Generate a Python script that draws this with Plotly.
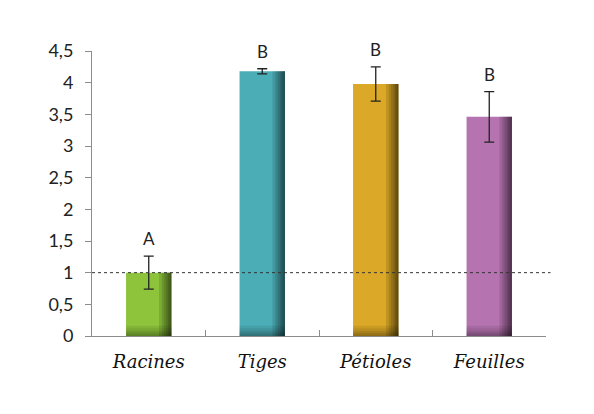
import plotly.graph_objects as go

organs = ["Racines", "Tiges", "Pétioles", "Feuilles"]
ratio = [1.0, 4.18, 3.98, 3.46]
err = [0.26, 0.04, 0.27, 0.40]
letters = ["A", "B", "B", "B"]
bar_colors = ["#8DC43C", "#4BADB6", "#DBA927", "#B574B0"]

BAR_W = 0.4

fig = go.Figure()

# main bars with error bars
fig.add_trace(go.Bar(
    x=organs, y=ratio, width=BAR_W, offset=-BAR_W / 2,
    marker=dict(color=bar_colors, line=dict(width=0)),
    error_y=dict(type="data", array=err, visible=True,
                 color="#222222", thickness=1.3, width=5),
    hoverinfo="skip",
))

# fake cylinder shading on the right side
for w in [0.11, 0.085, 0.065, 0.045, 0.03, 0.015]:
    fig.add_trace(go.Bar(
        x=organs, y=ratio, width=w, offset=BAR_W / 2 - w,
        marker=dict(color="rgba(0,0,0,0.12)", line=dict(width=0)),
        hoverinfo="skip",
    ))

# darker foot of the bars
for h in [0.16, 0.12, 0.08, 0.05, 0.025]:
    fig.add_trace(go.Bar(
        x=organs, y=[h] * len(organs), width=BAR_W, offset=-BAR_W / 2,
        marker=dict(color="rgba(0,0,0,0.08)", line=dict(width=0)),
        hoverinfo="skip",
    ))

# significance letters
for o, v, e, t in zip(organs, ratio, err, letters):
    fig.add_annotation(
        x=o, y=v + e, text=t, showarrow=False,
        yanchor="bottom", yshift=5,
        font=dict(family="Lato", size=17, color="#222222"),
    )

# reference line at 1
fig.add_shape(
    type="line", xref="paper", yref="y", x0=0, x1=1.01, y0=1, y1=1,
    line=dict(color="#333333", width=1, dash="dot"),
)

# page body adds 8px around the figure, margins compensate
fig.update_layout(
    width=594, height=414,
    barmode="overlay",
    showlegend=False,
    separators=", ",
    paper_bgcolor="white",
    plot_bgcolor="white",
    margin=dict(l=84, r=56, t=43, b=86),
    xaxis=dict(
        showline=True, linecolor="#8c8c8c", linewidth=1,
        ticks="inside", tickson="boundaries", ticklen=6, tickcolor="#8c8c8c",
        tickfont=dict(family="DejaVu Serif", size=18, style="italic", color="#111111"),
        ticklabelstandoff=9,
        showgrid=False,
    ),
    yaxis=dict(
        range=[0, 4.5], dtick=0.5,
        showline=True, linecolor="#8c8c8c", linewidth=1,
        ticks="outside", ticklen=6, tickcolor="#8c8c8c",
        tickfont=dict(family="Lato", size=18, color="#222222"),
        ticklabelstandoff=8,
        showgrid=False, zeroline=False,
    ),
)

fig.write_html("out.html")
